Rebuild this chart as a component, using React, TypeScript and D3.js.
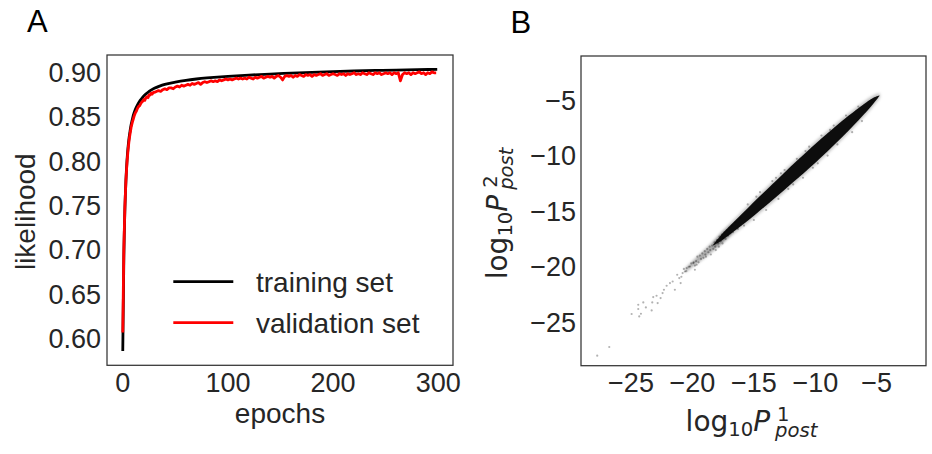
import React from 'react';
import * as d3 from 'd3';

// ---------- Panel A data ----------
const trainEpochs = [0, 1, 2, 3, 4, 5, 6, 7, 8, 9, 10, 12, 14, 16, 18, 20, 25, 30, 35, 40, 50, 60, 70, 80, 90, 100, 120, 140, 160, 180, 200, 220, 240, 260, 280, 299];
const trainLik = [0.586, 0.69, 0.745, 0.778, 0.8, 0.815, 0.826, 0.834, 0.841, 0.846, 0.851, 0.858, 0.863, 0.867, 0.87, 0.873, 0.878, 0.8815, 0.884, 0.886, 0.8885, 0.8905, 0.892, 0.8932, 0.8942, 0.895, 0.8964, 0.8976, 0.8986, 0.8995, 0.9003, 0.901, 0.9016, 0.9021, 0.9025, 0.9028];

const valEpochs = [...d3.range(0, 30), ...d3.range(30, 299, 2)];
const valLik = [
  0.607, 0.7, 0.748, 0.778, 0.798, 0.812, 0.823, 0.831, 0.838, 0.843,
  0.847, 0.851, 0.854, 0.856, 0.859, 0.861, 0.862, 0.864, 0.866, 0.867,
  0.869, 0.868, 0.871, 0.872, 0.871, 0.874, 0.874, 0.876, 0.875, 0.877,
  0.877, 0.878, 0.879, 0.878, 0.88, 0.881, 0.88, 0.882, 0.882, 0.881,
  0.883, 0.884, 0.883, 0.885, 0.884, 0.885, 0.886, 0.885, 0.887, 0.886,
  0.887, 0.888, 0.886, 0.888, 0.889, 0.888, 0.889, 0.89, 0.889, 0.89,
  0.889, 0.891, 0.89, 0.891, 0.892, 0.891, 0.892, 0.891, 0.892, 0.893,
  0.892, 0.893, 0.892, 0.893, 0.892, 0.894, 0.893, 0.892, 0.894, 0.893,
  0.894, 0.895, 0.893, 0.894, 0.895, 0.894, 0.895, 0.893, 0.895, 0.896,
  0.894, 0.891, 0.895, 0.896, 0.895, 0.896, 0.894, 0.896, 0.895, 0.897,
  0.896, 0.895, 0.897, 0.896, 0.897, 0.895, 0.897, 0.896, 0.897, 0.898,
  0.896, 0.897, 0.898, 0.896, 0.897, 0.898, 0.897, 0.896, 0.898, 0.897,
  0.898, 0.896, 0.898, 0.897, 0.898, 0.899, 0.897, 0.898, 0.897, 0.899,
  0.898, 0.897, 0.899, 0.898, 0.897, 0.899, 0.898, 0.899, 0.897, 0.898,
  0.899, 0.898, 0.899, 0.897, 0.899, 0.898, 0.899, 0.89, 0.897, 0.899,
  0.898, 0.899, 0.897, 0.899, 0.898, 0.899, 0.9, 0.898, 0.899, 0.897,
  0.899, 0.898, 0.9, 0.899, 0.899,
];

const xTicksA = [0, 100, 200, 300];
const yTicksA = [0.6, 0.65, 0.7, 0.75, 0.8, 0.85, 0.9];
const legendLabels = ['training set', 'validation set'];
const seriesColors = ['#000000', '#ff0000'];

// ---------- Panel B data ----------
const ticksB = [-25, -20, -15, -10, -5];
// dense core of the scatter: lower / upper edge of the band
const bandX = [-18.3, -17.5, -16.5, -15.5, -14.5, -13.5, -12.5, -11.5, -10.5, -9.5, -8.5, -7.5, -6.5, -5.75, -5.2, -4.75];
const bandLow = [-18.1, -17.55, -16.73, -15.87, -14.95, -14.02, -13.08, -12.12, -11.14, -10.13, -9.08, -7.99, -6.85, -5.95, -5.24, -4.6];
const bandHigh = [-18.0, -16.95, -15.83, -14.73, -13.65, -12.58, -11.52, -10.48, -9.46, -8.47, -7.52, -6.61, -5.75, -5.15, -4.76, -4.6];
// medium-density transition zone of the scatter
const midX = [-20.6, -19.5, -18.5, -17.5, -16.8];
const midLow = [-20.5, -19.6, -18.75, -17.8, -17.0];
const midHigh = [-20.2, -19.0, -17.95, -16.9, -16.2];
// sparse points (tail + fringe)
const sparsePts: [number, number][] = [
  [-27.75, -28.0], [-26.77, -27.22], [-24.95, -24.25], [-24.33, -24.47], [-24.19, -24.23],
  [-24.41, -23.8], [-24.0, -23.21], [-24.41, -23.42], [-23.79, -23.66], [-23.32, -23.93],
  [-23.27, -23.21], [-23.19, -22.73], [-22.92, -22.61], [-22.83, -23.27], [-22.59, -22.82],
  [-22.43, -22.37], [-22.32, -22.07], [-22.1, -21.71], [-21.83, -21.47], [-21.61, -21.33],
  [-21.43, -22.07], [-21.24, -20.72], [-21.07, -21.02], [-20.96, -21.47], [-20.8, -20.57],
  [-20.61, -20.43], [-20.47, -20.12], [-20.2, -19.98], [-19.93, -19.67], [-19.66, -19.82],
  [-19.8, -20.27],
  [-19.9, -19.6], [-19.7, -19.5], [-19.6, -19.1], [-19.5, -19.6], [-19.4, -19.0], [-19.3, -19.3],
  [-19.2, -18.8], [-19.1, -19.2], [-19.0, -18.6], [-18.95, -18.9], [-18.9, -19.1], [-18.8, -18.4],
  [-18.7, -18.7], [-18.6, -18.2], [-18.55, -18.5], [-18.5, -18.9], [-18.4, -18.1], [-18.3, -18.4],
  [-18.2, -17.8], [-18.15, -18.2], [-18.1, -18.5], [-18.0, -17.6], [-17.9, -17.9], [-17.85, -18.2],
  [-17.8, -17.3], [-17.7, -17.7], [-17.6, -17.1], [-17.55, -17.9], [-17.5, -17.4], [-17.4, -16.9],
  [-17.3, -17.5], [-17.2, -16.7], [-17.1, -17.2], [-17.0, -16.5], [-16.9, -17.0], [-16.8, -16.3],
  [-16.7, -16.9], [-16.5, -16.0], [-16.3, -16.6], [-16.1, -15.6], [-19.8, -19.9], [-20.1, -19.7],
  [-20.3, -20.0], [-20.5, -20.4], [-20.7, -20.2], [-20.9, -20.9],
  [-15.5, -14.4], [-15.0, -15.8], [-14.5, -13.3], [-14.0, -14.9], [-13.5, -12.3], [-13.0, -13.9],
  [-12.5, -11.3], [-12.2, -13.0], [-11.5, -10.3], [-11.0, -12.0], [-10.5, -9.2], [-10.2, -11.1],
  [-9.5, -8.2], [-9.0, -10.0], [-8.5, -7.3], [-8.2, -9.0], [-7.5, -6.4], [-7.0, -7.9],
  [-6.5, -5.6], [-6.2, -6.9], [-14.8, -13.7], [-13.2, -12.0], [-11.8, -12.6], [-10.8, -9.6],
  [-9.8, -10.7], [-8.8, -7.7], [-12.8, -11.6], [-15.8, -16.3],
];

const W = 932;
const H = 454;
const TXT = '#262626';
const FRAME = '#333333';
const SANS = '"Liberation Sans", Arial, sans-serif';
const MATH = '"DejaVu Sans", sans-serif';

const boxA = { l: 107, r: 453, t: 55, b: 365.3 };
const boxB = { l: 581, r: 926, t: 56, b: 365.7 };

export default function App() {
  const xA = d3.scaleLinear().domain([-15, 314]).range([boxA.l, boxA.r]);
  const yA = d3.scaleLinear().domain([0.57, 0.919]).range([boxA.b, boxA.t]);
  const xB = d3.scaleLinear().domain([-29.07, -0.99]).range([boxB.l, boxB.r]);
  const yB = d3.scaleLinear().domain([-28.9, -1.05]).range([boxB.b, boxB.t]);

  const trainLine = d3
    .line<number>()
    .x((_, i) => xA(trainEpochs[i]))
    .y((d) => yA(d))
    .curve(d3.curveMonotoneX)(trainLik) as string;
  const valLine = d3
    .line<number>()
    .x((_, i) => xA(valEpochs[i]))
    .y((d) => yA(d))(valLik) as string;

  const areaOf = (xs: number[], lo: number[], hi: number[], pad: number) =>
    d3
      .area<number>()
      .x((d) => xB(d))
      .y0((_, i) => yB(lo[i] - pad))
      .y1((_, i) => yB(hi[i] + pad))
      .curve(d3.curveCatmullRom)(xs) as string;

  const band = areaOf(bandX, bandLow, bandHigh, 0);
  const halo = areaOf(bandX, bandLow, bandHigh, 0.2);
  const mid = areaOf(midX, midLow, midHigh, 0);

  const fmtA = d3.format('.2f');
  const fmtB = d3.format('d');

  return (
    <svg width={W} height={H} style={{ position: 'absolute', left: 0, top: 0, background: '#fff' }}>
      <defs>
        <clipPath id="clipA">
          <rect x={boxA.l} y={boxA.t} width={boxA.r - boxA.l} height={boxA.b - boxA.t} />
        </clipPath>
        <clipPath id="clipB">
          <rect x={boxB.l} y={boxB.t} width={boxB.r - boxB.l} height={boxB.b - boxB.t} />
        </clipPath>
        <filter id="soft" x="-10%" y="-10%" width="120%" height="120%">
          <feGaussianBlur stdDeviation={0.6} />
        </filter>
        <filter id="softer" x="-20%" y="-20%" width="140%" height="140%">
          <feGaussianBlur stdDeviation={1.4} />
        </filter>
      </defs>
      <rect x={0} y={0} width={W} height={H} fill="#fff" />

      {/* Panel letters */}
      <text x={27} y={32} fontFamily={SANS} fontSize={31} fill="#000">A</text>
      <text x={510.5} y={32.7} fontFamily={SANS} fontSize={31} fill="#000">B</text>

      {/* ---------- Panel A ---------- */}
      <g clipPath="url(#clipA)">
        <path d={trainLine} fill="none" stroke={seriesColors[0]} strokeWidth={2.8} />
        <path d={valLine} fill="none" stroke={seriesColors[1]} strokeWidth={2.8} strokeLinejoin="round" />
      </g>
      <rect x={boxA.l} y={boxA.t} width={boxA.r - boxA.l} height={boxA.b - boxA.t} fill="none" stroke={FRAME} strokeWidth={1.25} />
      {xTicksA.map((t) => (
        <text key={t} x={xA(t)} y={392} textAnchor="middle" fontFamily={SANS} fontSize={27} fill={TXT}>
          {t}
        </text>
      ))}
      {yTicksA.map((t) => (
        <text key={t} x={101} y={yA(t) + 9.7} textAnchor="end" fontFamily={SANS} fontSize={27} fill={TXT}>
          {fmtA(t)}
        </text>
      ))}
      <text x={(boxA.l + boxA.r) / 2} y={423} textAnchor="middle" fontFamily={SANS} fontSize={28} fill={TXT}>
        epochs
      </text>
      <text transform="translate(35,211.7) rotate(-90)" textAnchor="middle" fontFamily={SANS} fontSize={28} fill={TXT}>
        likelihood
      </text>
      {/* legend */}
      {legendLabels.map((lab, i) => (
        <g key={lab}>
          <line x1={173.3} x2={233.3} y1={281.7 + i * 41} y2={281.7 + i * 41} stroke={seriesColors[i]} strokeWidth={2.8} />
          <text x={256} y={291.7 + i * 41.6} fontFamily={SANS} fontSize={28} fill={TXT}>
            {lab}
          </text>
        </g>
      ))}

      {/* ---------- Panel B ---------- */}
      <g clipPath="url(#clipB)">
        <path d={mid} fill="#000" fillOpacity={0.35} filter="url(#softer)" />
        <path d={halo} fill="#000" fillOpacity={0.25} filter="url(#softer)" />
        <path d={band} fill="#0a0a0a" filter="url(#soft)" />
        {sparsePts.map((p, i) => (
          <circle key={i} cx={xB(p[0])} cy={yB(p[1])} r={1.1} fill="#000" fillOpacity={0.3} />
        ))}
      </g>
      <rect x={boxB.l} y={boxB.t} width={boxB.r - boxB.l} height={boxB.b - boxB.t} fill="none" stroke={FRAME} strokeWidth={1.25} />
      {ticksB.map((t) => (
        <text key={'x' + t} x={xB(t)} y={392} textAnchor="middle" fontFamily={SANS} fontSize={27} fill={TXT}>
          {fmtB(t)}
        </text>
      ))}
      {ticksB.map((t) => (
        <text key={'y' + t} x={576} y={yB(t) + 9.7} textAnchor="end" fontFamily={SANS} fontSize={27} fill={TXT}>
          {fmtB(t)}
        </text>
      ))}
      {/* x label: log10 P^1_post */}
      <g transform="translate(685.6,430.5)">
        <MathLabel sup="1" />
      </g>
      {/* y label: log10 P^2_post */}
      <g transform="translate(506.7,279.3) rotate(-90)">
        <MathLabel sup="2" />
      </g>
    </svg>
  );
}

function MathLabel({ sup }: { sup: string }) {
  return (
    <text x={0} y={0} fontFamily={MATH} fontSize={28} fill={TXT}>
      <tspan>log</tspan>
      <tspan fontSize={19.6} dy={5}>10</tspan>
      <tspan fontStyle="italic" dy={-5}>P</tspan>
      <tspan fontSize={19.6} dy={-10} dx={7}>{sup}</tspan>
      <tspan fontSize={19.6} fontStyle="italic" dy={16} dx={-14.5}>post</tspan>
    </text>
  );
}
